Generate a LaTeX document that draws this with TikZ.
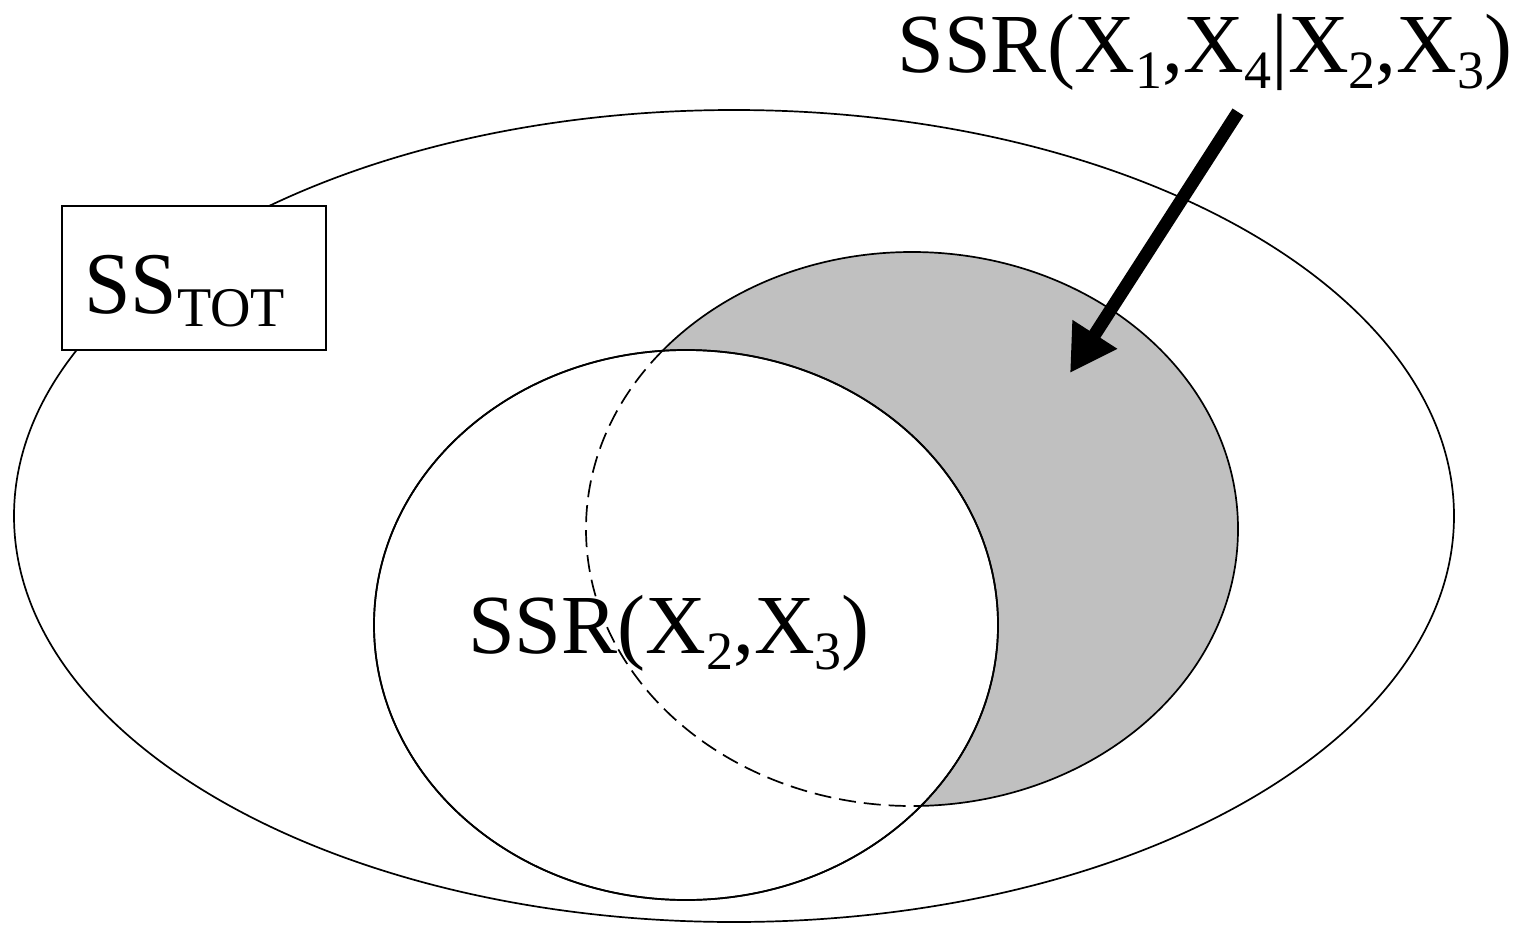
\documentclass[tikz,border=0pt]{standalone}
\usepackage{fontspec}
\setmainfont{Liberation Serif}
\usetikzlibrary{arrows.meta}
\definecolor{shade}{HTML}{C0C0C0}
\newcommand{\sbs}[1]{\raisebox{-0.2em}{\fontsize{54}{54}\selectfont #1}}
\tikzset{
  outline/.style={line width=1.7pt},
  biglabel/.style={inner sep=0pt, anchor=base, font=\fontsize{84}{84}\selectfont},
  tipbox/.style={draw, line width=2pt, fill=white, minimum width=264pt, minimum height=144pt, inner sep=0pt},
  bigarrow/.style={line width=13pt, -{Triangle[length=46pt,width=50pt]}}
}
\begin{document}
\begin{tikzpicture}[x=1pt,y=-1pt]
\useasboundingbox (0,0) rectangle (1534,926);
% total
\draw[outline, fill=white] (734,516) ellipse [x radius=720pt, y radius=406pt];
\node[tipbox] (tot) at (194,278) {};
\node[biglabel, anchor=base west, font=\fontsize{88}{88}\selectfont] (totlabel) at (84,313) {\scalebox{0.95}[1]{SS}\raisebox{-0.15em}{\fontsize{56}{56}\selectfont TOT}};
% gray ellipse
\draw[outline, fill=shade] (912,529) ellipse [x radius=326pt, y radius=277pt];
% white ellipse
\draw[outline, fill=white] (686,625) ellipse [x radius=312pt, y radius=275pt];
\begin{scope}
  \clip (686,625) ellipse [x radius=312pt, y radius=275pt];
  \draw[outline, dash pattern=on 17pt off 8pt] (912,529) ellipse [x radius=326pt, y radius=277pt];
\end{scope}
\draw[outline] (686,625) ellipse [x radius=312pt, y radius=275pt];
% labels
\node[biglabel] (inner) at (669,653) {SSR(X\sbs{2},X\sbs{3})};
\node[biglabel] (top) at (1205,72) {SSR(X\sbs{1},X\sbs{4}|X\sbs{2},X\sbs{3})};
\coordinate (astart) at (1238,112);
\coordinate (aend) at (1070,373);
\draw[bigarrow] (astart) -- (aend);
\end{tikzpicture}
\end{document}
